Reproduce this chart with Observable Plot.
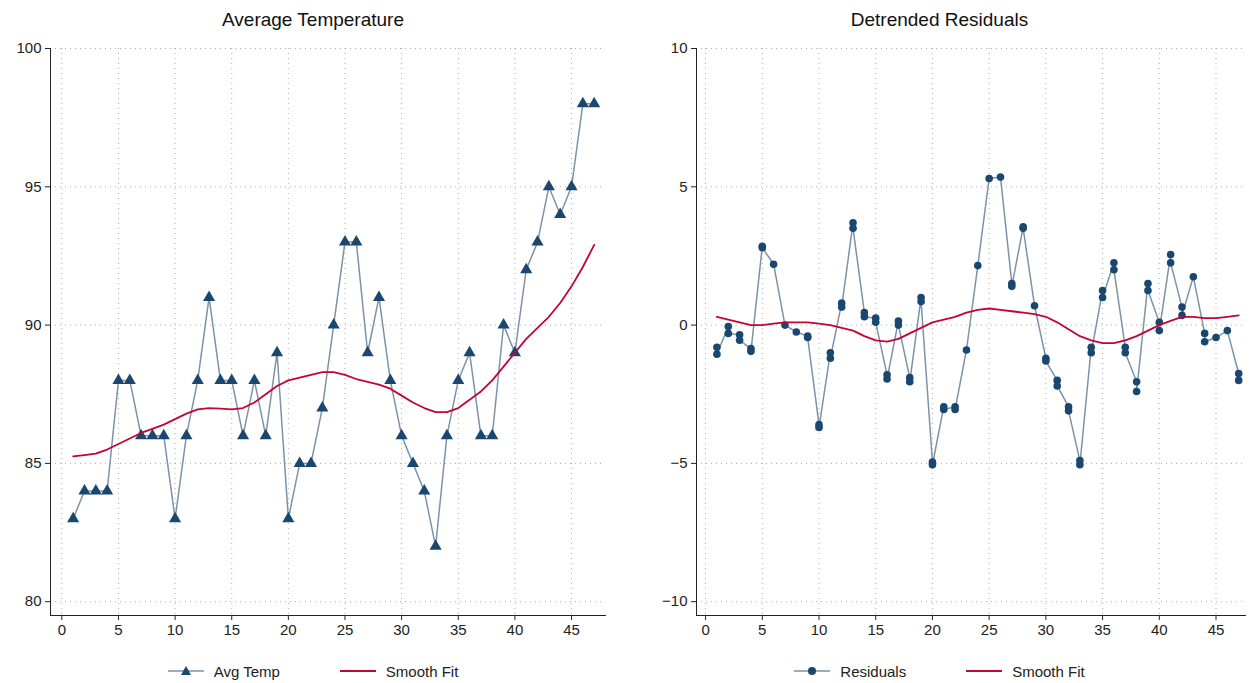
<!DOCTYPE html><html><head><meta charset="utf-8">
<script src="https://cdn.jsdelivr.net/npm/d3@7"></script>
<script src="https://cdn.jsdelivr.net/npm/@observablehq/plot@0.6"></script>
<style>
body{margin:0;background:#fff;font-family:"Liberation Sans",Arial,sans-serif;}
#wrap{display:flex;width:1253px}
.panel{position:relative}
.title{height:40px;text-align:center;font-size:19px;line-height:40px;color:#111}
.legend{height:52px;display:flex;justify-content:center;align-items:center;font-size:15px;gap:60px;color:#222;padding-top:0}
.legend span{display:flex;align-items:center;gap:10px}
</style></head><body><div id="wrap"></div>
<script>
const days = d3.range(1, 48);
const avgTemp = [83,84,84,84,88,88,86,86,86,83,86,88,91,88,88,86,88,86,89,83,85,85,87,90,93,93,89,91,88,86,85,84,82,86,88,89,86,86,90,89,92,93,95,94,95,98,98];
const smoothTemp = [85.25,85.3,85.35,85.5,85.7,85.9,86.1,86.25,86.4,86.6,86.8,86.95,87.0,86.98,86.95,87.0,87.2,87.5,87.8,88.0,88.1,88.2,88.3,88.3,88.2,88.05,87.95,87.85,87.7,87.45,87.2,87.0,86.85,86.85,87.0,87.3,87.6,88.0,88.5,89.0,89.5,89.9,90.3,90.8,91.4,92.1,92.9];
const resid1 = [-0.8,-0.05,-0.35,-0.85,2.85,2.2,0.0,-0.25,-0.4,-3.6,-1.0,0.8,3.7,0.45,0.25,-1.8,0.15,-1.9,1.0,-4.95,-2.95,-2.95,-0.9,2.15,5.3,5.35,1.5,3.55,0.7,-1.2,-2.0,-2.95,-4.9,-0.8,1.25,2.25,-0.8,-2.05,1.5,0.1,2.55,0.65,1.75,-0.3,-0.45,-0.2,-1.75];
const resid2 = [-1.05,-0.3,-0.55,-0.95,2.8,null,null,null,-0.45,-3.7,-1.2,0.65,3.5,0.3,0.1,-1.95,0.0,-2.05,0.85,-5.05,-3.05,-3.05,null,null,null,null,1.4,3.5,null,-1.3,-2.2,-3.1,-5.05,-1.0,1.0,2.0,-1.0,-2.4,1.25,-0.2,2.25,0.35,null,-0.6,null,null,-2.0];
const smoothResid = [0.3,0.2,0.1,0.0,0.0,0.05,0.1,0.1,0.1,0.05,0.0,-0.1,-0.2,-0.4,-0.55,-0.6,-0.5,-0.3,-0.1,0.1,0.2,0.3,0.45,0.55,0.6,0.55,0.5,0.45,0.4,0.3,0.1,-0.15,-0.4,-0.55,-0.65,-0.65,-0.55,-0.4,-0.2,0.0,0.15,0.3,0.3,0.25,0.25,0.3,0.35];
const xTicks = [0,5,10,15,20,25,30,35,40,45];

const LINE="#7d92a8", NAVY="#1a476f", RED="#c10534";
const pts = [];
days.forEach((d,i)=>{pts.push({x:d,y:resid1[i]}); if(resid2[i]!=null) pts.push({x:d,y:resid2[i]});});
const tempData = days.map((d,i)=>({x:d,y:avgTemp[i],s:smoothTemp[i]}));
const smoothR = days.map((d,i)=>({x:d,s:smoothResid[i]}));

function panel(title, width, ml, mr, xdom, ydom, yticks, marks, legendHtml){
  const p = document.createElement("div"); p.className="panel"; p.style.width=width+"px";
  p.innerHTML = `<div class="title">${title}</div>`;
  const fmt = d=>d<0?"\u2212"+(-d):d;
  const svg = Plot.plot({
    width, height:605, marginLeft:ml, marginRight:mr, marginTop:8, marginBottom:30,
    style:{fontSize:"15px",fontFamily:"Liberation Sans, Arial, sans-serif",color:"#222"},
    x:{domain:xdom, label:null},
    y:{domain:ydom, label:null},
    marks:[
      Plot.gridY(yticks,{stroke:"#999",strokeOpacity:0.8,strokeDasharray:"1,4"}),
      Plot.gridX(xTicks,{stroke:"#999",strokeOpacity:0.8,strokeDasharray:"1,4"}),
      ...marks,
      Plot.axisX({ticks:xTicks,tickSize:5,tickFormat:d=>d,label:null}),
      Plot.axisY({ticks:yticks,tickSize:5,tickFormat:fmt,label:null}),
      Plot.frame({anchor:"left",stroke:"#222"}),
      Plot.frame({anchor:"bottom",stroke:"#222"})
    ]});
  p.appendChild(svg);
  const lg=document.createElement("div"); lg.className="legend"; lg.innerHTML=legendHtml; p.appendChild(lg);
  document.getElementById("wrap").appendChild(p);
}
const lgLine = (m)=>`<svg width="36" height="14"><line x1="0" x2="36" y1="7" y2="7" stroke="${LINE}" stroke-width="1.5"/>${m}</svg>`;
const lgRed = `<svg width="36" height="14"><line x1="0" x2="36" y1="7" y2="7" stroke="${RED}" stroke-width="2"/></svg>`;

panel("Average Temperature",626,50,21,[-1,48],[79.5,100],[80,85,90,95,100],[
  Plot.line(tempData,{x:"x",y:"y",stroke:LINE,strokeWidth:1.5}),
  Plot.dot(tempData,{x:"x",y:"y",symbol:"triangle",r:4.5,fill:NAVY}),
  Plot.line(tempData,{x:"x",y:"s",stroke:RED,strokeWidth:1.8})
], `<span>${lgLine(`<path d="M18,2 L23,11 L13,11Z" fill="${NAVY}"/>`)}Avg Temp</span><span>${lgRed}Smooth Fit</span>`);

panel("Detrended Residuals",627,70,8,[-0.8,47.6],[-10.5,10],[-10,-5,0,5,10],[
  Plot.line(pts,{x:"x",y:"y",stroke:LINE,strokeWidth:1.5}),
  Plot.dot(pts,{x:"x",y:"y",r:3.8,fill:NAVY}),
  Plot.line(smoothR,{x:"x",y:"s",stroke:RED,strokeWidth:1.8})
], `<span>${lgLine(`<circle cx="18" cy="7" r="4" fill="${NAVY}"/>`)}Residuals</span><span>${lgRed}Smooth Fit</span>`);
</script></body></html>
